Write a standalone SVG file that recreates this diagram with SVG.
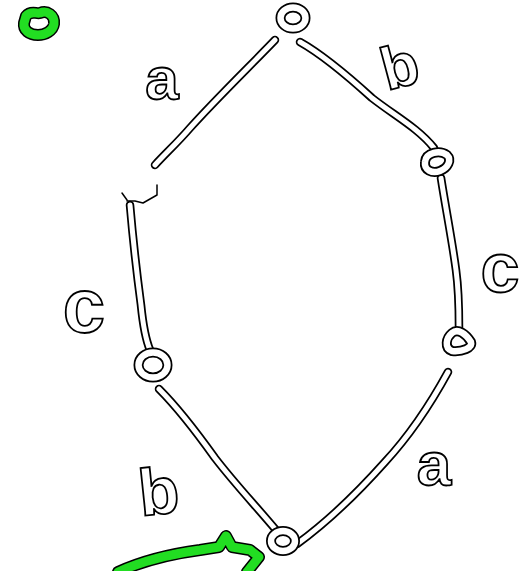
<svg xmlns="http://www.w3.org/2000/svg" width="523" height="571" viewBox="0 0 523 571">
<style>
.o{fill:none;stroke:#000;stroke-width:8.5;stroke-linecap:round;stroke-linejoin:round}
.i{fill:none;stroke:#fff;stroke-width:5;stroke-linecap:round;stroke-linejoin:round}
.no{fill:none;stroke:#000;stroke-width:10;stroke-linecap:round;stroke-linejoin:round}
.ni{fill:none;stroke:#fff;stroke-width:6.5;stroke-linecap:round;stroke-linejoin:round}
.go{fill:none;stroke:#000;stroke-width:12;stroke-linecap:round;stroke-linejoin:round}
.gi{fill:none;stroke:#22dd22;stroke-width:9;stroke-linecap:round;stroke-linejoin:round}
.thin{fill:none;stroke:#000;stroke-width:1.5;stroke-linecap:round;stroke-linejoin:round}
.lbl{font-family:"Liberation Sans",Arial,sans-serif;font-weight:bold;fill:#fff;stroke:#000;stroke-width:1.8;text-anchor:middle}
</style>
<rect width="523" height="571" fill="#fff"/>
<defs>
<path id="e1" d="M275,40 C250,66 215,100 190,128 C178,142 165,154 155,165"/>
<path id="e2" d="M300,42 C325,56 350,78 372,98 C395,116 418,128 434,148"/>
<path id="e3" d="M441,178 C446,210 452,240 456,270 C459,292 459,310 459,328"/>
<path id="e4" d="M448,372 C430,405 410,435 385,462 C360,490 330,520 297,544"/>
<path id="e5" d="M159,389 C178,408 195,430 215,458 C235,484 255,505 276,530"/>
<path id="e6" d="M130,205 C133,240 137,275 141,305 C143,325 145,338 150,350"/>
</defs>
<g id="connectors">
<use href="#e1" class="o"/><use href="#e1" class="i"/>
<use href="#e2" class="o"/><use href="#e2" class="i"/>
<use href="#e3" class="o"/><use href="#e3" class="i"/>
<use href="#e4" class="o"/><use href="#e4" class="i"/>
<use href="#e5" class="o"/><use href="#e5" class="i"/>
<use href="#e6" class="o"/><use href="#e6" class="i"/>
<path class="thin" d="M122,193 L127,200 M127,201 L135,201 L143,203 L157,195 L157,185"/>
</g>
<g id="n-top">
<ellipse cx="293" cy="18" rx="12.5" ry="10.5" class="no"/><ellipse cx="293" cy="18" rx="12.5" ry="10.5" class="ni"/>
</g>
<g id="n-topright">
<path d="M425,162 C426,152 440,150 447,155 C452,160 448,168 440,171 C432,174 424,170 425,162 Z" class="no"/>
<path d="M425,162 C426,152 440,150 447,155 C452,160 448,168 440,171 C432,174 424,170 425,162 Z" class="ni"/>
</g>
<g id="n-right">
<path d="M452,333 C458,328 466,334 471,342 C473,348 462,352 452,351 C444,348 446,338 452,333 Z" class="no"/>
<path d="M452,333 C458,328 466,334 471,342 C473,348 462,352 452,351 C444,348 446,338 452,333 Z" class="ni"/>
</g>
<g id="n-left">
<ellipse cx="153" cy="365" rx="14.5" ry="12.5" class="no"/><ellipse cx="153" cy="365" rx="14.5" ry="12.5" class="ni"/>
</g>
<g id="n-bottom">
<ellipse cx="283" cy="541" rx="12" ry="10" class="no"/><ellipse cx="283" cy="541" rx="12" ry="10" class="ni"/>
</g>
<g id="green-top">
<path d="M26,16 C31,10 36,14 40,13 C47,10 55,15 54,24 C53,31 45,35 38,35 C29,35 23,30 24,23 Z" class="go"/>
<path d="M26,16 C31,10 36,14 40,13 C47,10 55,15 54,24 C53,31 45,35 38,35 C29,35 23,30 24,23 Z" class="gi"/>
</g>
<g id="green-bottom">
<path d="M118,572 C140,562 170,554 200,550 L219,547 L226,536 L232,547 L250,550 L259,557 L247,572" class="go"/>
<path d="M118,572 C140,562 170,554 200,550 L219,547 L226,536 L232,547 L250,550 L259,557 L247,572" class="gi"/>
</g>
<g id="labels">
<text class="lbl" x="162" y="99" font-size="60">a</text>
<text class="lbl" x="405" y="86" font-size="60" transform="rotate(-15 405 86)">b</text>
<text class="lbl" x="500" y="292" font-size="70">c</text>
<text class="lbl" x="84" y="332" font-size="76">c</text>
<text class="lbl" x="434" y="485" font-size="62">a</text>
<text class="lbl" x="161" y="514" font-size="66" transform="rotate(-6 161 514)">b</text>
</g>
</svg>
